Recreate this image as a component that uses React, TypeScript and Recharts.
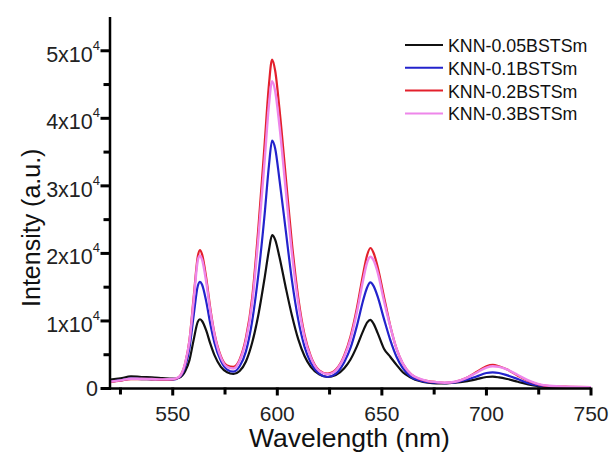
import React from "react";
import {
  LineChart,
  Line,
  XAxis,
  YAxis,
  Legend,
} from "recharts";

const FONT = "'Liberation Sans', Arial, Helvetica, sans-serif";

// wavelength grid (nm)
const wavelengths = [
  520, 525, 530, 535, 540, 545, 550, 553, 556, 558, 560, 562, 563, 564, 566, 568, 570, 573, 576, 579,
  582, 585, 588, 591, 594, 596, 597.5, 599, 601, 604, 607, 610, 613, 616, 620, 624, 628, 632, 635, 638,
  641, 643, 644.5, 646, 648, 651, 654, 657, 660, 664, 668, 672, 676, 680, 685, 690, 695, 700, 703, 706,
  710, 715, 720, 725, 730, 740, 750,
];

const knn005 = [
  1300, 1500, 1800, 1700, 1650, 1550, 1450, 1600, 2600, 4200, 7200, 9900, 10250, 10000, 8600, 6600, 4900, 3200, 2400, 2150,
  2600, 4000, 6800, 11000, 16500, 20500, 22700, 22000, 19500, 15000, 10800, 7300, 4800, 3200, 2100, 1700, 2000, 3000, 4300, 6200,
  8500, 9800, 10150, 9600, 8200, 5900, 4700, 3500, 2400, 1600, 1100, 850, 750, 750, 850, 1050, 1350, 1700, 1750, 1650,
  1400, 1000, 600, 350, 250, 200, 150,
];

const knn01 = [
  1000, 1200, 1450, 1400, 1350, 1300, 1300, 1600, 3300, 6000, 10800, 15200, 15800, 15400, 12900, 9500, 6700, 4100, 2800, 2500,
  3300, 5500, 10000, 17000, 26000, 33000, 36700, 35500, 31000, 23500, 16000, 10200, 6200, 3800, 2200, 1700, 2200, 3900, 6000, 9200,
  13000, 15000, 15700, 15200, 13600, 10300, 7200, 4700, 3000, 1700, 1200, 950, 850, 800, 900, 1250, 1750, 2300, 2400, 2300,
  1950, 1400, 800, 450, 300, 200, 150,
];

const knn02 = [
  950, 1150, 1400, 1400, 1350, 1300, 1350, 1700, 3800, 7200, 13500, 19600, 20500, 19900, 16400, 11800, 8100, 4800, 3400, 3200,
  4300, 7500, 13500, 24000, 36500, 45000, 48700, 47000, 41500, 31500, 21500, 13500, 8000, 4800, 2700, 2200, 2800, 4900, 7700, 11800,
  16900, 19800, 20800, 20100, 18000, 13600, 9300, 5900, 3700, 2100, 1400, 1100, 950, 850, 1000, 1500, 2400, 3300, 3500, 3300,
  2800, 1900, 1100, 600, 350, 250, 200,
];

const knn03 = [
  1000, 1200, 1450, 1450, 1400, 1350, 1400, 1700, 3800, 7000, 13000, 19000, 19700, 19100, 15800, 11400, 7900, 4600, 3200, 2950,
  4100, 7100, 12700, 22500, 34000, 42000, 45500, 44000, 39000, 29500, 20000, 12700, 7600, 4600, 2600, 2100, 2700, 4700, 7300, 11200,
  16000, 18700, 19500, 19000, 17200, 13000, 9200, 5900, 3700, 2100, 1450, 1100, 950, 850, 1000, 1500, 2300, 3100, 3300, 3200,
  2800, 2000, 1200, 650, 400, 250, 200,
];

const seriesNames = ["KNN-0.05BSTSm", "KNN-0.1BSTSm", "KNN-0.2BSTSm", "KNN-0.3BSTSm"];
const seriesKeys = ["s005", "s01", "s02", "s03"];
const seriesColors = ["#111111", "#2323cc", "#e3202c", "#ee86ea"];

const xTicks = [525, 550, 575, 600, 625, 650, 675, 700, 725, 750];
const yTicks = [0, 5000, 10000, 15000, 20000, 25000, 30000, 35000, 40000, 45000, 50000];

const data = wavelengths.map((wl, i) => ({
  wl,
  s005: knn005[i],
  s01: knn01[i],
  s02: knn02[i],
  s03: knn03[i],
}));

// eslint-disable-next-line @typescript-eslint/no-explicit-any
function XTick(props: any) {
  const x = Number(props.x);
  const y = Number(props.y);
  const v = Number(props.payload.value);
  const major = v % 50 === 0;
  return (
    <g>
      <rect x={x - 1.5} y={y - 1} width={3} height={major ? 8 : 7} fill="#000" stroke="none" />
      {major && (
        <text x={x} y={y + 32} textAnchor="middle" fontFamily={FONT} fontSize={21} fill="#222">
          {v}
        </text>
      )}
    </g>
  );
}

// eslint-disable-next-line @typescript-eslint/no-explicit-any
function YTick(props: any) {
  const x = Number(props.x);
  const y = Number(props.y);
  const v = Number(props.payload.value);
  const major = v % 10000 === 0;
  const len = major ? 9.5 : 6.5;
  return (
    <g>
      <rect x={x - len} y={y - 1.5} width={len + 1} height={3} fill="#000" stroke="none" />
      {major && v === 0 && (
        <text x={x - 12} y={y + 7.5} textAnchor="end" fontFamily={FONT} fontSize={21.5} fill="#222">
          0
        </text>
      )}
      {major && v !== 0 && (
        <text x={x - 10} y={y + 11} textAnchor="end" fontFamily={FONT} fontSize={21.5} fill="#222">
          {`${v / 10000}x10`}
          <tspan dy={-12} fontSize={13}>4</tspan>
        </text>
      )}
    </g>
  );
}

// eslint-disable-next-line @typescript-eslint/no-explicit-any
function XTitle(props: any) {
  const vb = props.viewBox ?? { x: 110, y: 388.5, width: 481 };
  return (
    <text x={vb.x + vb.width / 2 - 1} y={vb.y + 58} textAnchor="middle" fontFamily={FONT} fontSize={26.5} fill="#111">
      Wavelength (nm)
    </text>
  );
}

// eslint-disable-next-line @typescript-eslint/no-explicit-any
function YTitle(props: any) {
  const vb = props.viewBox ?? { x: 10, y: 17, height: 371.5 };
  const cx = vb.x + 21;
  const cy = vb.y + vb.height / 2 + 25;
  return (
    <text
      x={cx}
      y={cy}
      transform={`rotate(-90 ${cx} ${cy})`}
      textAnchor="middle"
      dominantBaseline="central"
      fontFamily={FONT}
      fontSize={25}
      fill="#111"
    >
      Intensity (a.u.)
    </text>
  );
}

function LegendBox() {
  return (
    <svg width={200} height={96}>
      {seriesNames.map((name, i) => {
        const ly = 12 + i * 22.8;
        return (
          <g key={name}>
            <line x1={5} x2={43} y1={ly} y2={ly} stroke={seriesColors[i]} strokeWidth={2} />
            <text x={48} y={ly + 7} fontFamily={FONT} fontSize={17.8} fill="#111">
              {name}
            </text>
          </g>
        );
      })}
    </svg>
  );
}

export default function App() {
  return (
    <div style={{ position: "absolute", left: 0, top: 0, width: 611, height: 456, background: "#fff" }}>
      <LineChart width={611} height={456} data={data} margin={{ top: 17, right: 20, bottom: 0, left: 10 }}>
        <XAxis
          dataKey="wl"
          type="number"
          domain={[520, 750]}
          ticks={xTicks}
          interval={0}
          allowDataOverflow
          height={67.5}
          tickSize={0}
          tickMargin={0}
          tickLine={false}
          axisLine={{ stroke: "#000", strokeWidth: 2.5 }}
          tick={<XTick />}
          label={<XTitle />}
        />
        <XAxis
          xAxisId="top"
          orientation="top"
          dataKey="wl"
          type="number"
          domain={[520, 750]}
          height={0}
          tick={false}
          tickLine={false}
          axisLine={{ stroke: "#000", strokeWidth: 2.5 }}
        />
        <YAxis
          type="number"
          domain={[0, 55000]}
          ticks={yTicks}
          interval={0}
          allowDataOverflow
          width={100}
          tickSize={0}
          tickMargin={0}
          tickLine={false}
          axisLine={{ stroke: "#000", strokeWidth: 2.5 }}
          tick={<YTick />}
          label={<YTitle />}
        />
        <YAxis
          yAxisId="right"
          orientation="right"
          type="number"
          domain={[0, 55000]}
          width={0}
          tick={false}
          tickLine={false}
          axisLine={{ stroke: "#000", strokeWidth: 2.5 }}
        />
        <Legend
          layout="vertical"
          align="center"
          verticalAlign="middle"
          content={<LegendBox />}
          wrapperStyle={{ position: "absolute", top: 33, left: 400, width: 200, height: 96 }}
        />
        {seriesKeys.map((key, i) => (
          <Line
            key={key}
            type="monotone"
            dataKey={key}
            name={seriesNames[i]}
            stroke={seriesColors[i]}
            strokeWidth={i === 3 ? 2.4 : 2.2}
            dot={false}
            activeDot={false}
            isAnimationActive={false}
          />
        ))}
      </LineChart>
    </div>
  );
}
